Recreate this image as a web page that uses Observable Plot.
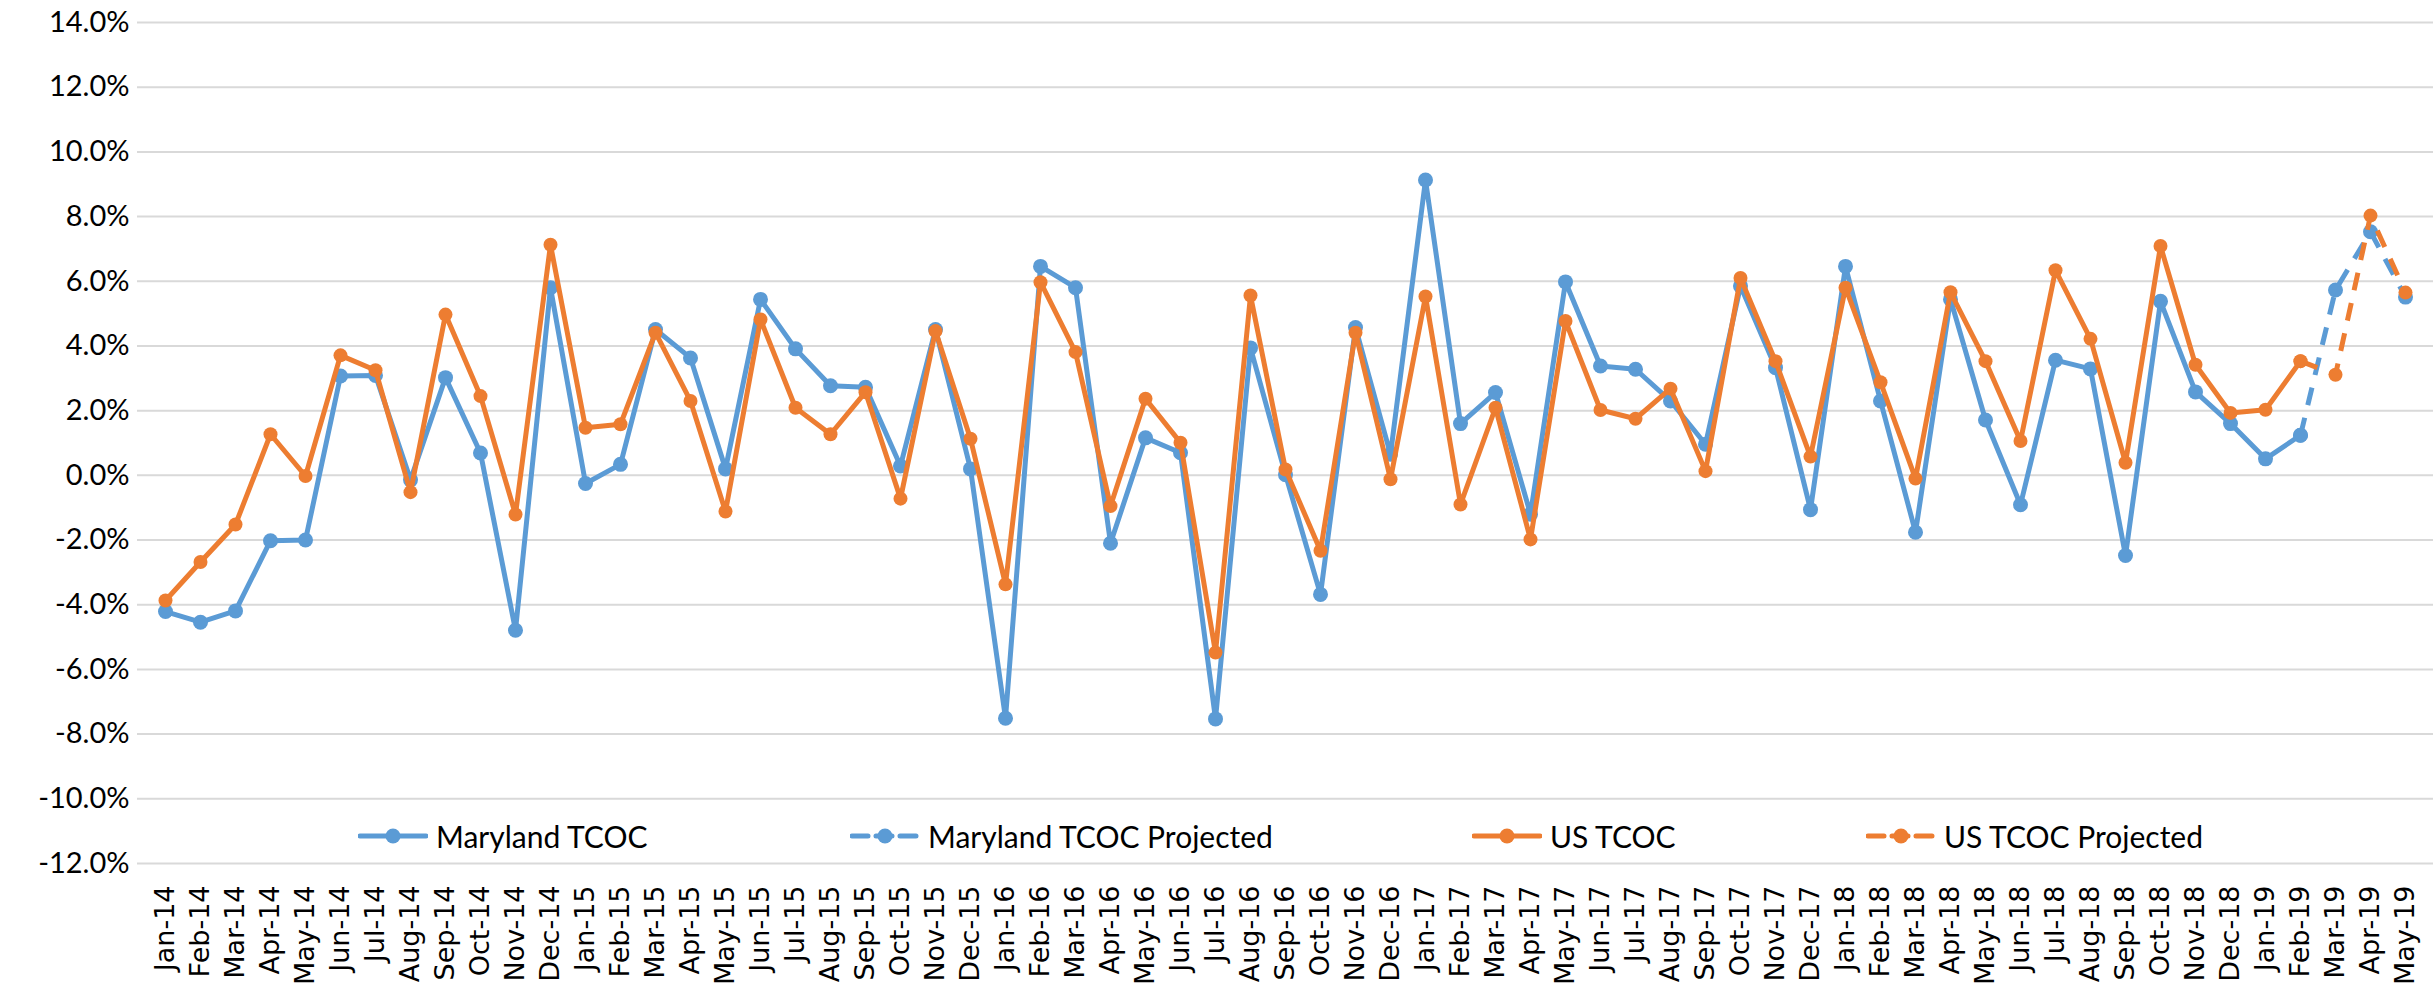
<!DOCTYPE html>
<html>
<head>
<meta charset="utf-8">
<script src="https://cdn.jsdelivr.net/npm/d3@7"></script>
<script src="https://cdn.jsdelivr.net/npm/@observablehq/plot@0.6"></script>
<style>
  html, body { margin: 0; padding: 0; background: #fff; }
  #wrap { position: relative; width: 2433px; height: 987px; overflow: hidden; }
  .leg { position: absolute; top: 816px; height: 40px; display: flex; align-items: center;
         font-family: Lato, "Noto Sans", sans-serif; font-size: 30px; color: #000; white-space: nowrap; }
  .leg svg { margin-right: 8px; }
</style>
</head>
<body>
<div id="wrap"></div>
<script>
const months = [
  "Jan-14","Feb-14","Mar-14","Apr-14","May-14","Jun-14","Jul-14","Aug-14","Sep-14","Oct-14","Nov-14","Dec-14",
  "Jan-15","Feb-15","Mar-15","Apr-15","May-15","Jun-15","Jul-15","Aug-15","Sep-15","Oct-15","Nov-15","Dec-15",
  "Jan-16","Feb-16","Mar-16","Apr-16","May-16","Jun-16","Jul-16","Aug-16","Sep-16","Oct-16","Nov-16","Dec-16",
  "Jan-17","Feb-17","Mar-17","Apr-17","May-17","Jun-17","Jul-17","Aug-17","Sep-17","Oct-17","Nov-17","Dec-17",
  "Jan-18","Feb-18","Mar-18","Apr-18","May-18","Jun-18","Jul-18","Aug-18","Sep-18","Oct-18","Nov-18","Dec-18",
  "Jan-19","Feb-19","Mar-19","Apr-19","May-19"
];

// Actual series: Jan-14 .. Feb-19
const marylandTCOC = [
  -4.21, -4.54, -4.19, -2.02, -2.00, 3.07, 3.09, -0.14, 3.02, 0.69, -4.79, 5.80,
  -0.25, 0.34, 4.51, 3.63, 0.20, 5.44, 3.91, 2.77, 2.72, 0.29, 4.51, 0.20,
  -7.51, 6.46, 5.80, -2.10, 1.16, 0.70, -7.53, 3.94, 0.02, -3.68, 4.57, 0.65,
  9.13, 1.60, 2.56, -1.20, 5.98, 3.38, 3.28, 2.30, 0.96, 5.85, 3.33, -1.06,
  6.46, 2.30, -1.76, 5.44, 1.71, -0.91, 3.56, 3.29, -2.48, 5.38, 2.58, 1.60,
  0.51, 1.24
];
const usTCOC = [
  -3.87, -2.68, -1.52, 1.27, -0.02, 3.71, 3.25, -0.52, 4.97, 2.45, -1.21, 7.13,
  1.47, 1.58, 4.41, 2.30, -1.12, 4.82, 2.09, 1.27, 2.57, -0.72, 4.46, 1.13,
  -3.37, 5.97, 3.81, -0.95, 2.37, 1.01, -5.48, 5.56, 0.18, -2.33, 4.41, -0.12,
  5.53, -0.90, 2.09, -1.98, 4.77, 2.02, 1.75, 2.68, 0.13, 6.10, 3.53, 0.58,
  5.80, 2.88, -0.10, 5.66, 3.53, 1.06, 6.34, 4.22, 0.39, 7.09, 3.42, 1.93,
  2.03, 3.53
];

// Projected series: Feb-19 .. May-19
const projectedMonths = ["Feb-19","Mar-19","Apr-19","May-19"];
const marylandProjected = [1.24, 5.73, 7.53, 5.51];
const usProjected = [3.53, 3.11, 8.03, 5.65];

const yTicks = [-12, -10, -8, -6, -4, -2, 0, 2, 4, 6, 8, 10, 12, 14];

const seriesNames = ["Maryland TCOC", "Maryland TCOC Projected", "US TCOC", "US TCOC Projected"];
const colors = { md: "#5B9BD5", us: "#ED7D31" };

const mdData = marylandTCOC.map((v, i) => ({ month: months[i], value: v }));
const usData = usTCOC.map((v, i) => ({ month: months[i], value: v }));
const mdProj = marylandProjected.map((v, i) => ({ month: projectedMonths[i], value: v }));
const usProj = usProjected.map((v, i) => ({ month: projectedMonths[i], value: v }));

const DASH = "18,13";
const LW = 5;

const chart = Plot.plot({
  width: 2433,
  height: 987,
  marginLeft: 137,
  marginRight: 0,
  marginTop: 22,
  marginBottom: 124,
  style: { background: "#fff", overflow: "visible" },
  x: { type: "point", domain: months, padding: 0.5, label: null },
  y: { domain: [-12, 14], ticks: yTicks, label: null },
  marks: [
    Plot.gridY(yTicks, { stroke: "#D9D9D9", strokeOpacity: 1, strokeWidth: 2 }),
    Plot.axisY(yTicks, {
      tickSize: 0, tickPadding: 8, label: null,
      tickFormat: d => d.toFixed(1) + "%",
      fontSize: 29, fontFamily: "Lato, sans-serif", fill: "#000"
    }),
    Plot.axisX({
      tickSize: 0, tickPadding: 22, tickRotate: -90, label: null,
      fontSize: 27, fontFamily: "'DejaVu Sans', sans-serif", fill: "#000"
    }),
    Plot.line(mdProj, { x: "month", y: "value", stroke: colors.md, strokeWidth: LW, strokeDasharray: DASH, strokeLinecap: "butt" }),
    Plot.line(mdData, { x: "month", y: "value", stroke: colors.md, strokeWidth: LW }),
    Plot.dot(mdData, { x: "month", y: "value", r: 7.5, fill: colors.md, stroke: "none" }),
    Plot.dot(mdProj, { x: "month", y: "value", r: 7.5, fill: colors.md, stroke: "none" }),
    Plot.line(usProj, { x: "month", y: "value", stroke: colors.us, strokeWidth: LW, strokeDasharray: DASH, strokeLinecap: "butt" }),
    Plot.line(usData, { x: "month", y: "value", stroke: colors.us, strokeWidth: LW }),
    Plot.dot(usData, { x: "month", y: "value", r: 7, fill: colors.us, stroke: "none" }),
    Plot.dot(usProj, { x: "month", y: "value", r: 7, fill: colors.us, stroke: "none" })
  ]
});

const wrap = document.getElementById("wrap");
wrap.appendChild(chart);

// Make sure the tick-label font settings are applied
d3.select(chart).selectAll('g[aria-label="x-axis tick label"]')
  .attr("font-size", 27).attr("font-family", "'DejaVu Sans', sans-serif");
d3.select(chart).selectAll('g[aria-label="y-axis tick label"]')
  .attr("font-size", 29).attr("font-family", "Lato, sans-serif");

// Legend (inside the plot area, like the original)
const legendItems = [
  { name: seriesNames[0], color: colors.md, dashed: false, left: 358 },
  { name: seriesNames[1], color: colors.md, dashed: true, left: 850 },
  { name: seriesNames[2], color: colors.us, dashed: false, left: 1472 },
  { name: seriesNames[3], color: colors.us, dashed: true, left: 1866 }
];
for (const item of legendItems) {
  const div = document.createElement("div");
  div.className = "leg";
  div.style.left = item.left + "px";
  const dash = item.dashed ? `stroke-dasharray="16,8"` : "";
  div.innerHTML = `<svg width="70" height="20" viewBox="0 0 70 20">
      <line x1="2" y1="10" x2="68" y2="10" stroke="${item.color}" stroke-width="${LW}" stroke-linecap="round" ${dash}/>
      <circle cx="35" cy="10" r="7.5" fill="${item.color}"/>
    </svg><span>${item.name}</span>`;
  wrap.appendChild(div);
}
</script>
</body>
</html>
